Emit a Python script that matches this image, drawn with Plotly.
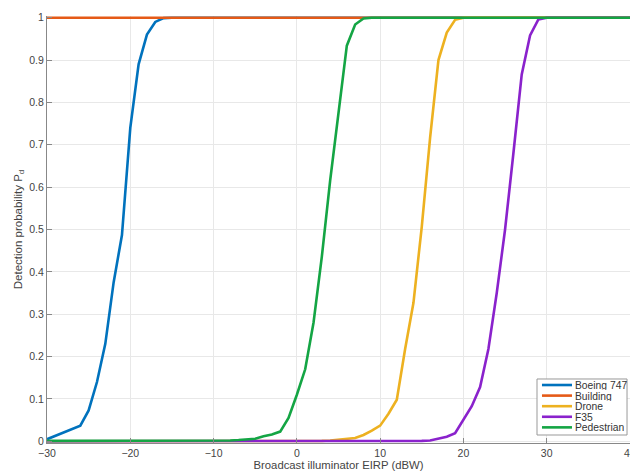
import plotly.graph_objects as go

eirp = list(range(-30, 41))

boeing = [0.005, 0.013, 0.021, 0.029, 0.037, 0.073, 0.14, 0.23, 0.375, 0.487,
          0.74, 0.89, 0.96, 0.99, 0.999] + [1.0] * 56

building = [1.0] * 71

drone = [0.0] * 32 + [0.001, 0.001, 0.002, 0.004, 0.006, 0.008, 0.015, 0.025, 0.037,
                      0.065, 0.098, 0.218, 0.327, 0.507, 0.717, 0.9, 0.965, 0.995] + [1.0] * 21

f35 = [0.0] * 45 + [0.001, 0.002, 0.006, 0.011, 0.019, 0.05, 0.083, 0.128, 0.218,
                    0.35, 0.5, 0.68, 0.866, 0.958, 0.996] + [1.0] * 11

pedestrian = [0.001] * 22 + [0.002, 0.003, 0.004, 0.006, 0.012, 0.016, 0.023, 0.055,
                             0.11, 0.17, 0.28, 0.436, 0.616, 0.78, 0.934, 0.984, 0.998] + [1.0] * 32

names = ["Boeing 747", "Building", "Drone", "F35", "Pedestrian"]
values = [boeing, building, drone, f35, pedestrian]
colors = ["#0072BD", "#E55A17", "#EDB120", "#8A22CC", "#14A544"]

y_ticks = [0, 0.1, 0.2, 0.3, 0.4, 0.5, 0.6, 0.7, 0.8, 0.9, 1]
y_ticktext = ["0", "0.1", "0.2", "0.3", "0.4", "0.5", "0.6", "0.7", "0.8", "0.9", "1"]
x_ticks = [-30, -20, -10, 0, 10, 20, 30, 40]

fig = go.Figure()
for name, vals, col in zip(names, values, colors):
    fig.add_trace(go.Scatter(x=eirp, y=vals, mode="lines", name=name,
                             line=dict(color=col, width=2.6)))

# MATLAB-style compact legend built from the series list (paper coordinates)
box_x0, box_x1, box_y0, box_y1 = 0.8405, 0.9949, 0.0187, 0.1499
row0, row_step = 0.1358, 0.0248
shapes = [dict(type="rect", xref="paper", yref="paper", x0=box_x0, x1=box_x1,
               y0=box_y0, y1=box_y1, fillcolor="white", line=dict(color="#999", width=1),
               layer="above")]
annotations = []
for i, (name, col) in enumerate(zip(names, colors)):
    yy = row0 - i * row_step
    shapes.append(dict(type="line", xref="paper", yref="paper", x0=0.849, x1=0.9005,
                       y0=yy, y1=yy, line=dict(color=col, width=2.6), layer="above"))
    annotations.append(dict(x=0.904, y=yy, xref="paper", yref="paper", text=name,
                            showarrow=False, xanchor="left", yanchor="middle",
                            height=10, borderpad=0, valign="middle",
                            font=dict(size=10.3, color="#333")))

# last x tick label (cut by the figure edge as in the reference)
annotations.append(dict(x=x_ticks[-1], y=0, xref="x", yref="paper", text=str(x_ticks[-1]),
                        showarrow=False, xanchor="center", yanchor="top", yshift=-2,
                        font=dict(size=10.5, color="#444")))

fig.update_layout(
    width=630, height=471,
    margin=dict(l=47, r=0, t=16, b=28),
    paper_bgcolor="white", plot_bgcolor="white",
    font=dict(family="Liberation Sans, Arial, sans-serif", size=10.5, color="#444"),
    showlegend=False,
    shapes=shapes,
    annotations=annotations,
)
fig.update_xaxes(range=[-30, 40], tickvals=x_ticks[:-1], showgrid=True, gridcolor="#e8e8e8",
                 zeroline=False, showline=True, linecolor="#888", linewidth=1,
                 ticks="inside", ticklen=5, tickcolor="#888",
                 tickfont=dict(size=10.5, color="#444"),
                 title=dict(text="Broadcast illuminator EIRP (dBW)", standoff=1,
                            font=dict(size=11.3, color="#444")))
fig.update_yaxes(range=[-0.004, 1.004], tickvals=y_ticks, ticktext=y_ticktext,
                 showgrid=True, gridcolor="#e8e8e8",
                 zeroline=False, showline=True, linecolor="#888", linewidth=1,
                 ticks="inside", ticklen=5, tickcolor="#888",
                 tickfont=dict(size=10.5, color="#444"),
                 title=dict(text="Detection probability P<sub>d</sub>", standoff=4,
                            font=dict(size=11.5, color="#444")))

fig.write_html("out.html")
